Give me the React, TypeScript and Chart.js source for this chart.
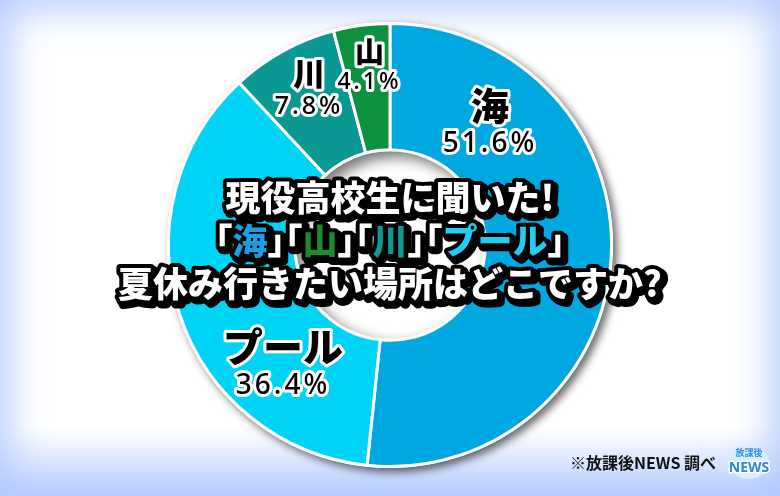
import React, { useEffect, useRef } from "react";
import { Chart, registerables } from "chart.js";

Chart.register(...registerables);

// survey data
const categories = ["海", "プール", "川", "山"];
const shares = [51.6, 36.4, 7.8, 4.1];
const sliceColors = ["#00a8e1", "#00d4f6", "#0a9893", "#0c9140"];

// centre title, [text, colour] pieces per line
const titleLines: [string, string][][] = [
  [["現役高校生に聞いた!", "#ffffff"]],
  [
    ["「", "#ffffff"],
    ["海", "#1ba0e2"],
    ["」「", "#ffffff"],
    ["山", "#1f8a2c"],
    ["」「", "#ffffff"],
    ["川", "#0c9893"],
    ["」「", "#ffffff"],
    ["プール", "#22ccf2"],
    ["」", "#ffffff"],
  ],
  [["夏休み行きたい場所はどこですか?", "#ffffff"]],
];
const sourceNote = "※放課後NEWS 調べ";

// where each label sits inside its slice (fraction of sweep, fraction of radius) and font sizes
const labelPlace = [
  { f: 0.214, r: 0.706, name: 38, pct: 28 },
  { f: 0.269, r: 0.733, name: 40, pct: 28 },
  { f: 0.545, r: 0.79, name: 32, pct: 25 },
  { f: 0.556, r: 0.81, name: 29, pct: 23 },
];

const JP = '"Noto Sans CJK JP", "Noto Sans", sans-serif';

const drawRich = (
  ctx: CanvasRenderingContext2D,
  parts: [string, string][],
  cx: number,
  y: number,
  size: number,
) => {
  // lay out glyphs one by one so the corner brackets take half an em
  const glyphs: { ch: string; x: number; color: string }[] = [];
  let x = 0;
  for (const [text, color] of parts) {
    for (const ch of Array.from(text)) {
      if (ch === "「") {
        glyphs.push({ ch, x: x - size / 2, color });
        x += size / 2;
      } else if (ch === "」") {
        glyphs.push({ ch, x, color });
        x += size / 2;
      } else {
        glyphs.push({ ch, x, color });
        x += ctx.measureText(ch).width;
      }
    }
  }
  const left = cx - x / 2;
  ctx.lineJoin = "round";
  ctx.strokeStyle = "#000";
  ctx.lineWidth = 10;
  glyphs.forEach((g) => ctx.strokeText(g.ch, left + g.x + 3, y + 3));
  ctx.lineWidth = 8;
  glyphs.forEach((g) => ctx.strokeText(g.ch, left + g.x, y));
  glyphs.forEach((g) => {
    ctx.fillStyle = g.color;
    ctx.fillText(g.ch, left + g.x, y);
  });
};

const outlined = (
  ctx: CanvasRenderingContext2D,
  text: string,
  x: number,
  y: number,
  font: string,
  spacing = "0px",
) => {
  ctx.font = font;
  (ctx as any).letterSpacing = spacing;
  ctx.textAlign = "center";
  ctx.textBaseline = "middle";
  ctx.lineJoin = "round";
  ctx.strokeStyle = "#fff";
  ctx.lineWidth = 6;
  ctx.strokeText(text, x, y);
  ctx.fillStyle = "#000";
  ctx.fillText(text, x, y);
  (ctx as any).letterSpacing = "0px";
};

const donutDecor = {
  id: "donutDecor",
  beforeDatasetsDraw(chart: any) {
    const arc = chart.getDatasetMeta(0).data[0];
    if (!arc) return;
    const ctx = chart.ctx as CanvasRenderingContext2D;
    ctx.save();
    ctx.beginPath();
    ctx.arc(arc.x, arc.y, arc.outerRadius + 1.5, 0, Math.PI * 2);
    ctx.fillStyle = "#fff";
    ctx.shadowColor = "rgba(0,0,0,0.6)";
    ctx.shadowBlur = 8;
    ctx.shadowOffsetX = 4;
    ctx.shadowOffsetY = 4;
    ctx.fill();
    ctx.restore();
  },
  afterDatasetsDraw(chart: any) {
    const arcs = chart.getDatasetMeta(0).data;
    if (!arcs.length) return;
    const ctx = chart.ctx as CanvasRenderingContext2D;
    const { x, y, innerRadius } = arcs[0];

    // shadow inside the hole
    ctx.save();
    ctx.beginPath();
    ctx.arc(x, y, innerRadius - 1.5, 0, Math.PI * 2);
    ctx.clip();
    ctx.beginPath();
    ctx.arc(x, y, innerRadius + 60, 0, Math.PI * 2);
    ctx.arc(x, y, innerRadius - 1.5, 0, Math.PI * 2, true);
    ctx.fillStyle = "#fff";
    ctx.shadowColor = "rgba(0,0,0,0.55)";
    ctx.shadowBlur = 14;
    ctx.shadowOffsetX = 6;
    ctx.shadowOffsetY = 6;
    ctx.fill();
    ctx.restore();

    // slice labels
    ctx.save();
    arcs.forEach((a: any, i: number) => {
      const p = labelPlace[i];
      const ang = a.startAngle + (a.endAngle - a.startAngle) * p.f;
      const lx = a.x + Math.cos(ang) * a.outerRadius * p.r;
      const ly = a.y + Math.sin(ang) * a.outerRadius * p.r;
      outlined(ctx, categories[i], lx, ly - p.name * 0.5, `900 ${p.name}px ${JP}`);
      outlined(
        ctx,
        shares[i].toFixed(1) + "%",
        lx,
        ly + p.pct * 0.68,
        `500 ${p.pct}px "Noto Sans", sans-serif`,
        "3px",
      );
    });
    ctx.restore();
  },
  afterDraw(chart: any) {
    const ctx = chart.ctx as CanvasRenderingContext2D;
    const arc = chart.getDatasetMeta(0).data[0];
    if (!arc) return;
    ctx.save();
    ctx.font = `900 35px ${JP}`;
    ctx.textAlign = "left";
    ctx.textBaseline = "middle";
    titleLines.forEach((line, i) => {
      drawRich(ctx, line, arc.x, arc.y - 47 + i * 43, 35);
    });

    // source note + logo
    ctx.font = `bold 16px ${JP}`;
    ctx.textAlign = "right";
    ctx.fillStyle = "#111";
    ctx.fillText(sourceNote, 716, 463);

    ctx.beginPath();
    ctx.ellipse(749, 462, 20, 17, 0, 0, Math.PI * 2);
    ctx.fillStyle = "#d7ecff";
    ctx.fill();
    ctx.textAlign = "center";
    ctx.font = `bold 9px ${JP}`;
    ctx.fillStyle = "#2e8fe6";
    ctx.fillText("放課後", 749, 453);
    ctx.font = 'bold 14px "Noto Sans", sans-serif';
    ctx.lineWidth = 3;
    ctx.strokeStyle = "#fff";
    ctx.strokeText("NEWS", 749, 468);
    ctx.fillStyle = "#2a86e0";
    ctx.fillText("NEWS", 749, 468);
    ctx.restore();
  },
};

const App: React.FC = () => {
  const canvasRef = useRef<HTMLCanvasElement | null>(null);
  const chartRef = useRef<Chart<"doughnut"> | null>(null);

  useEffect(() => {
    if (!canvasRef.current) return;
    chartRef.current = new Chart(canvasRef.current, {
      type: "doughnut",
      data: {
        labels: categories,
        datasets: [
          {
            data: shares,
            backgroundColor: sliceColors,
            borderColor: "#ffffff",
            borderWidth: 3,
          },
        ],
      },
      options: {
        responsive: true,
        maintainAspectRatio: false,
        animation: false,
        events: [],
        cutout: "43%",
        layout: { padding: { top: 22, bottom: 28 } },
        plugins: {
          legend: { display: false },
          tooltip: { enabled: false },
        },
      },
      plugins: [donutDecor],
    });

    return () => {
      chartRef.current?.destroy();
    };
  }, []);

  return (
    <div
      style={{
        position: "fixed",
        left: 0,
        top: 0,
        width: 780,
        height: 496,
        background:
          "linear-gradient(180deg, rgba(255,255,255,0) 86%, #bed3ff 100%), #ffffff",
        boxShadow: "inset 0 0 40px 8px #b0caff",
      }}
    >
      <canvas ref={canvasRef} />
    </div>
  );
};

export default App;
